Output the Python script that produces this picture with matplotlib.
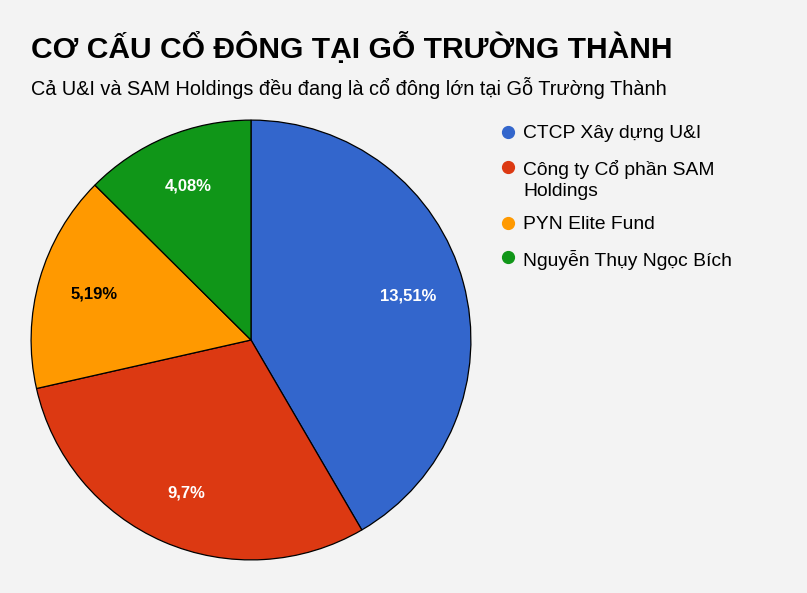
import matplotlib
matplotlib.use("Agg")
import matplotlib.pyplot as plt
from matplotlib.lines import Line2D
import numpy as np

title = "CƠ CẤU CỔ ĐÔNG TẠI GỖ TRƯỜNG THÀNH"
subtitle = "Cả U&I và SAM Holdings đều đang là cổ đông lớn tại Gỗ Trường Thành"
labels = ["CTCP Xây dựng U&I", "Công ty Cổ phần SAM\nHoldings", "PYN Elite Fund", "Nguyễn Thụy Ngọc Bích"]
values = [13.51, 9.7, 5.19, 4.08]
value_text = ["13,51%", "9,7%", "5,19%", "4,08%"]
colors = ["#3366cc", "#dc3912", "#ff9900", "#109618"]
text_colors = ["white", "white", "black", "white"]

W, H = 807, 593
bg = "#f3f3f3"
fig = plt.figure(figsize=(W / 100, H / 100), dpi=100, facecolor=bg)
plt.rcParams['font.family'] = ['Liberation Sans', 'DejaVu Sans']

cx, cy, r = 251, 340, 221
ax = fig.add_axes([(cx - r) / W, (H - cy - r) / H, 2 * r / W, 2 * r / H])
ax.set_facecolor(bg)
wedges, _ = ax.pie(values, colors=colors, startangle=90, counterclock=False,
                   wedgeprops=dict(edgecolor="black", linewidth=0.9))
total = sum(values)
ang = 90.0
for v, t, tc in zip(values, value_text, text_colors):
    span = v / total * 360
    mid = np.deg2rad(ang - span / 2)
    ang -= span
    ax.text(0.74 * np.cos(mid), 0.76 * np.sin(mid), t, ha="center", va="center",
            fontsize=12, fontweight="bold", color=tc)
ax.set_xlim(-1.005, 1.005)
ax.set_ylim(-1.005, 1.005)
ax.set_aspect("equal")
ax.axis("off")

def fy(y):
    return 1 - y / H

fig.text(31 / W, fy(48), title, fontsize=21.6, fontweight="bold", ha="left", va="center")
fig.text(31 / W, fy(88), subtitle, fontsize=14.3, ha="left", va="center")

rows = [132, 167, 223, 257]
for lab, col, y in zip(labels, colors, rows):
    fig.add_artist(Line2D([508 / W], [fy(y)], marker="o", markersize=8.5, color=col,
                          linestyle="none", transform=fig.transFigure))
    fig.text(523 / W, fy(y - 7), lab, fontsize=13.9, ha="left", va="top", linespacing=1.3)

fig.savefig("out.png", dpi=100, facecolor=bg)
